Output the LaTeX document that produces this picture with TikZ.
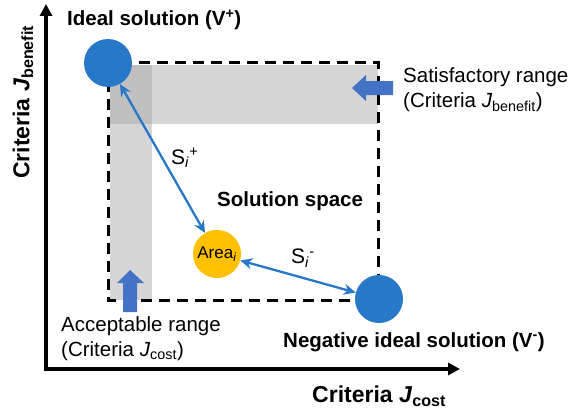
\documentclass[tikz,border=0pt]{standalone}
\usepackage{fontspec}
\setmainfont{Liberation Sans}
\usetikzlibrary{arrows.meta}
\definecolor{cblue}{HTML}{2878C8}
\definecolor{aorange}{HTML}{FFC000}
\definecolor{bandgray}{HTML}{D6D6D6}
\definecolor{overgray}{HTML}{C0C0C0}
\definecolor{blockblue}{HTML}{4472C4}
\tikzset{
  axis/.style={line width=3.5pt, -{Triangle[length=12pt,width=12pt]}},
  dashbox/.style={line width=3pt, dash pattern=on 11pt off 7pt},
  bigdot/.style={circle, fill=cblue, minimum size=48pt, inner sep=0pt},
  areadot/.style={circle, fill=aorange, minimum size=48pt, inner sep=0pt, font=\fontsize{17}{19}\selectfont},
  dist/.style={cblue, line width=2.3pt, {Stealth[length=12pt,width=11pt]}-{Stealth[length=12pt,width=11pt]}},
  boldlab/.style={font=\bfseries\fontsize{20.5}{24}\selectfont, inner sep=0pt},
  plainlab/.style={font=\fontsize{20.5}{25}\selectfont, inner sep=0pt, align=left},
  slab/.style={font=\fontsize{21}{24}\selectfont, inner sep=0pt, text=black},
  axlabel/.style={font=\bfseries\fontsize{23}{26}\selectfont, inner sep=0pt},
}
\begin{document}
\begin{tikzpicture}[x=1pt,y=-1pt]
\useasboundingbox (0,0) rectangle (570,412);
% gray bands
\fill[bandgray] (110,65) rectangle (378,124);
\fill[bandgray] (110,65) rectangle (152,300);
\fill[overgray] (110,65) rectangle (152,124);
% dashed solution space
\draw[dashbox] (108,63) rectangle (378,300);
% axes
\coordinate (O) at (46,369);
\coordinate (ytop) at (46,4);
\coordinate (xend) at (460,369);
\draw[axis] ([yshift=1.75pt]O) -- (ytop);
\draw[axis] ([xshift=-1.75pt]O) -- (xend);
% nodes
\node[bigdot] (vp) at (108,63) {};
\node[bigdot] (vm) at (379,299) {};
\node[areadot] (area) at (217,254) {Area\textsubscript{\textit{i}}};
% distances
\draw[dist] (vp) -- (area);
\draw[dist] (area) -- (vm);
\node[slab, anchor=west] (sp) at (171,158) {S\textsubscript{\textit{i}}\textsuperscript{+}};
\node[slab, anchor=west] (sm) at (291,258) {S\textsubscript{\textit{i}}\textsuperscript{-}};
% labels
\node[boldlab, anchor=west] (ideal) at (67,20) {Ideal solution (V\textsuperscript{+})};
\node[boldlab, anchor=west] (neg) at (283,342) {Negative ideal solution (V\textsuperscript{-})};
\node[boldlab, anchor=west] (space) at (217,201) {Solution space};
\node[axlabel, anchor=west] (xl) at (312,396) {Criteria \textit{J}\textsubscript{cost}};
\node[axlabel, rotate=90, anchor=west] (yl) at (23,179) {Criteria \textit{J}\textsubscript{benefit}};
\node[plainlab, anchor=west] (sat) at (403,90) {Satisfactory range\\(Criteria \textit{J}\textsubscript{benefit})};
\node[plainlab, anchor=west] (acc) at (61,339) {Acceptable range\\(Criteria \textit{J}\textsubscript{cost})};
% block arrows
\fill[blockblue] (393,81) -- (366,81) -- (366,75) -- (352,88) -- (366,101) -- (366,95) -- (393,95) -- cycle;
\fill[blockblue] (123,312) -- (123,283) -- (117,283) -- (130,270) -- (144,283) -- (137,283) -- (137,312) -- cycle;
\end{tikzpicture}
\end{document}
